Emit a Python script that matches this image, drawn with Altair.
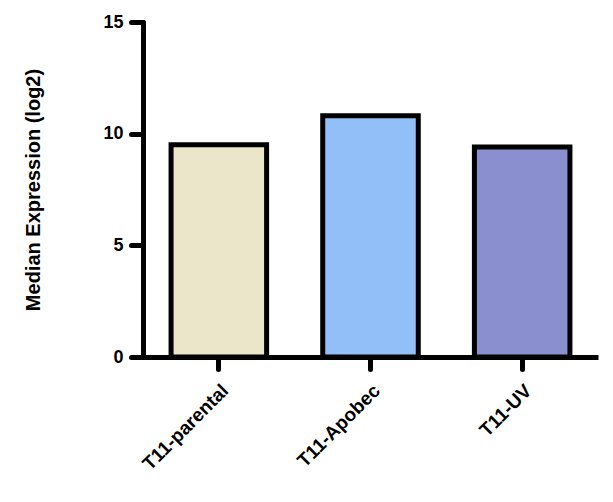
import altair as alt
import pandas as pd

categories = ["T11-parental", "T11-Apobec", "T11-UV"]
values = [9.5, 10.8, 9.4]
colors = ["#EBE5C9", "#92BFF8", "#8A90CF"]

df = pd.DataFrame({"group": categories, "value": values})

FONT = "Liberation Sans"

chart = alt.Chart(df).mark_bar(stroke="black", strokeWidth=5).encode(
    x=alt.X("group:N", sort=categories, title=None,
            scale=alt.Scale(paddingInner=0.37, paddingOuter=0.185),
            axis=alt.Axis(labelAngle=-45, labelFontSize=19, labelFontWeight="bold",
                          labelFont=FONT, labelColor="black", labelPadding=12,
                          tickSize=12, domainWidth=5, tickWidth=5,
                          domainColor="black", tickColor="black", tickCap="round")),
    y=alt.Y("value:Q", title="Median Expression (log2)",
            scale=alt.Scale(domain=[0, 15], nice=False),
            axis=alt.Axis(values=[0, 5, 10, 15], grid=False, labelFontSize=18,
                          labelFontWeight="bold", labelFont=FONT, labelColor="black",
                          labelPadding=8, tickSize=12, domainWidth=5, tickWidth=5,
                          domainColor="black", tickColor="black", tickCap="round",
                          domainCap="round", titleFont=FONT, titleFontSize=20,
                          titleFontWeight="bold", titleColor="black", titlePadding=59)),
    color=alt.Color("group:N", sort=categories,
                    scale=alt.Scale(domain=categories, range=colors), legend=None),
).properties(
    width=455, height=335,
    padding={"left": 15, "top": 5, "right": 5, "bottom": 5},
).configure_view(stroke=None)

chart.save("out.html", embed_options={"renderer": "svg", "actions": False})
